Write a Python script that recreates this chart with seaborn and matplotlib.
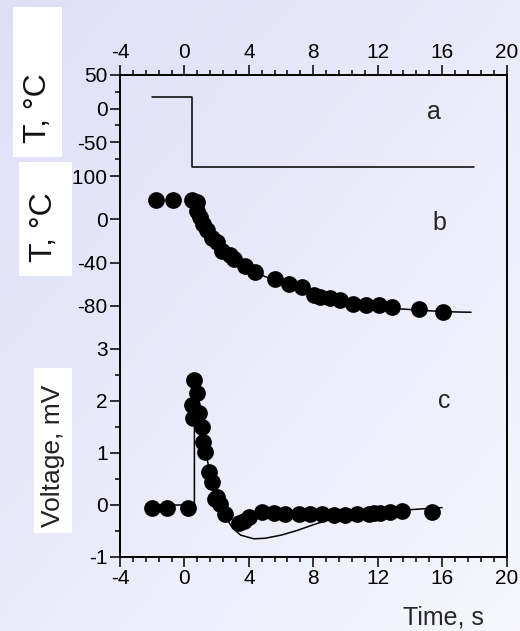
import numpy as np
import pandas as pd
import matplotlib
matplotlib.use("Agg")
import matplotlib.pyplot as plt
from matplotlib.ticker import MultipleLocator, FixedLocator
from matplotlib.patches import Rectangle
import seaborn as sns

# ---------------- data ----------------
# panel a: imposed temperature step
a_time = [-2.0, 0.5, 0.5, 18.0]
a_temp = [18, 18, -86, -86]

# panel b: measured temperature (points) and fit (line)
b_time = [-1.76, -0.72, 0.46, 0.77, 0.77, 0.98, 1.18, 1.39, 1.70, 2.01, 2.32, 2.84,
          3.05, 3.77, 4.40, 5.64, 6.47, 7.30, 8.02, 8.44, 9.06, 9.68, 10.47, 11.30,
          12.06, 12.89, 14.55, 16.04]
b_temp = [18, 18, 18, 16, 8, 2, -4, -10, -17, -21, -29, -33,
          -37, -43, -49, -55, -60, -63, -70, -72, -73, -75, -78, -79,
          -79, -81, -83, -86]
b_fit_time = [0.5, 0.8, 1.0, 1.5, 2.0, 2.5, 3.0, 3.5, 4.0, 5.0, 6.0, 7.0, 8.0, 9.0,
              10.0, 11.0, 12.0, 13.0, 14.0, 15.0, 16.0, 17.0, 17.8]
b_fit_temp = [18, 12, 4, -11, -21, -29, -36, -41, -46, -53, -58, -63, -67.5, -71.5,
              -75, -78, -81, -82.5, -83.5, -84.5, -85.3, -85.8, -86]

# panel c: voltage (points) and model (line)
c_time = [-2.03, -1.10, 0.20, 0.62, 0.77, 0.46, 0.93, 0.56, 1.08, 1.18, 1.28, 1.55,
          1.70, 1.90, 2.01, 2.22, 2.53, 3.36, 3.70, 3.98, 4.81, 5.54, 6.26, 7.09,
          7.82, 8.54, 9.27, 10.0, 10.72, 11.45, 11.80, 12.17, 12.79, 13.52, 15.38]
c_volt = [-0.05, -0.05, -0.05, 2.41, 2.15, 1.92, 1.76, 1.67, 1.50, 1.21, 1.02, 0.63,
          0.44, 0.12, 0.15, 0.02, -0.17, -0.34, -0.30, -0.24, -0.14, -0.16, -0.17, -0.17,
          -0.18, -0.18, -0.19, -0.19, -0.18, -0.17, -0.16, -0.15, -0.13, -0.12, -0.13]
c_fit_time = [-2.0, 0.62, 0.62, 0.9, 1.2, 1.5, 1.8, 2.1, 2.5, 3.0, 3.5, 4.3, 5.0, 6.0,
              7.0, 8.0, 9.0, 10.0, 12.0, 14.0, 16.0]
c_fit_volt = [0.0, 0.0, 1.6, 1.55, 1.2, 0.75, 0.4, 0.1, -0.2, -0.45, -0.58, -0.65, -0.64,
              -0.58, -0.49, -0.38, -0.28, -0.22, -0.15, -0.09, -0.05]

x_major = [-4, 0, 4, 8, 12, 16, 20]
a_yticks = [50, 0, -50, -100]
b_yticks = [0, -40, -80]
c_yticks = [-1, 0, 1, 2, 3]

# ---------------- style ----------------
sns.set_style("ticks")
plt.rcParams["font.family"] = ["Liberation Sans", "DejaVu Sans"]
plt.rcParams["axes.unicode_minus"] = False

W, H = 520, 631
fig = plt.figure(figsize=(W / 100, H / 100), dpi=100)

# gradient background
bg = fig.add_axes([0, 0, 1, 1], zorder=-10)
yy, xx = np.mgrid[0:1:200j, 0:1:200j]
t = (xx + yy) / 2.0
c0 = np.array([0.872, 0.872, 0.972])
c1 = np.array([0.965, 0.965, 0.992])
img = c0[None, None, :] * (1 - t[..., None]) + c1[None, None, :] * t[..., None]
bg.imshow(img, aspect="auto", extent=[0, 1, 0, 1], origin="upper")
bg.axis("off")

L = 120 / W
Wd = (506.5 - 120) / W
def fy(px):
    return 1 - px / H

ax_a = fig.add_axes([L, fy(176), Wd, (176 - 75) / H])
ax_b = fig.add_axes([L, fy(349), Wd, (349 - 176) / H])
ax_c = fig.add_axes([L, fy(557), Wd, (557 - 349) / H])

lw_line = 1.1
lw_spine = 1.4
tick_fs = 15
msize = 145

for ax in (ax_a, ax_b, ax_c):
    ax.set_facecolor("none")
    ax.set_xlim(-4, 20)
    for s in ax.spines.values():
        s.set_linewidth(lw_spine)
        s.set_color("black")
    ax.tick_params(which="both", direction="out", color="black", width=1.1,
                   labelsize=tick_fs, labelcolor="black", right=False)
    ax.tick_params(which="major", length=7, pad=2)
    ax.tick_params(which="minor", length=3.6)
    ax.set_xlabel("")
    ax.set_ylabel("")

# panel a
sns.lineplot(x=a_time, y=a_temp, ax=ax_a, color="black", lw=lw_line,
             sort=False, estimator=None)
ax_a.set_ylim(-100, 50)
ax_a.yaxis.set_major_locator(FixedLocator(a_yticks))
ax_a.yaxis.set_minor_locator(MultipleLocator(25))
ax_a.xaxis.set_major_locator(FixedLocator(x_major))
ax_a.xaxis.set_minor_locator(MultipleLocator(0.8))
ax_a.spines["bottom"].set_visible(False)
ax_a.tick_params(axis="x", which="both", top=True, bottom=False,
                 labeltop=True, labelbottom=False)

# panel b
sns.lineplot(x=b_fit_time, y=b_fit_temp, ax=ax_b, color="black", lw=lw_line,
             sort=False, estimator=None)
sns.scatterplot(x=b_time, y=b_temp, ax=ax_b, color="black", s=msize,
                linewidth=0, zorder=3)
ax_b.set_ylim(-120, 40)
ax_b.yaxis.set_major_locator(FixedLocator(b_yticks))
ax_b.yaxis.set_minor_locator(FixedLocator([]))
ax_b.spines["top"].set_visible(False)
ax_b.spines["bottom"].set_visible(False)
ax_b.tick_params(axis="x", which="both", top=False, bottom=False,
                 labeltop=False, labelbottom=False)

# panel c
sns.lineplot(x=c_fit_time, y=c_fit_volt, ax=ax_c, color="black", lw=lw_line,
             sort=False, estimator=None)
sns.scatterplot(x=c_time, y=c_volt, ax=ax_c, color="black", s=msize,
                linewidth=0, zorder=3)
ax_c.set_ylim(-1, 3)
ax_c.yaxis.set_major_locator(FixedLocator(c_yticks))
ax_c.yaxis.set_minor_locator(MultipleLocator(0.5))
ax_c.xaxis.set_major_locator(FixedLocator(x_major))
ax_c.xaxis.set_minor_locator(MultipleLocator(0.8))
ax_c.spines["top"].set_visible(False)
ax_c.tick_params(axis="x", which="both", top=False, bottom=True,
                 labeltop=False, labelbottom=True)

def place_text(xp, yp, s, **kw):
    fig.text(xp / W, 1 - yp / H, s, **kw)

place_text(434, 112, "a", fontsize=18, ha="center", va="center")
place_text(439, 223, "b", fontsize=18, ha="center", va="center")
place_text(444, 401, "c", fontsize=18, ha="center", va="center")
place_text(443, 617, "Time, s", fontsize=18, ha="center", va="center")

# white label boxes with rotated y labels
def box(x0, y0, x1, y1):
    fig.add_artist(Rectangle((x0 / W, 1 - y1 / H), (x1 - x0) / W, (y1 - y0) / H,
                             transform=fig.transFigure, facecolor="white",
                             edgecolor="none", zorder=5))

box(13, 7, 62, 157)
box(19, 162, 72, 276)
box(34, 368, 72, 533)
fig.text(38 / W, 1 - 108 / H, "T, °C", rotation=90, fontsize=23, ha="center",
         va="center", zorder=6, color="#111111")
fig.text(44 / W, 1 - 227 / H, "T, °C", rotation=90, fontsize=23, ha="center",
         va="center", zorder=6, color="#111111")
fig.text(53 / W, 1 - 456 / H, "Voltage, mV", rotation=90, fontsize=19, ha="center",
         va="center", zorder=6, color="#222222")

fig.savefig("out.png", dpi=100)
